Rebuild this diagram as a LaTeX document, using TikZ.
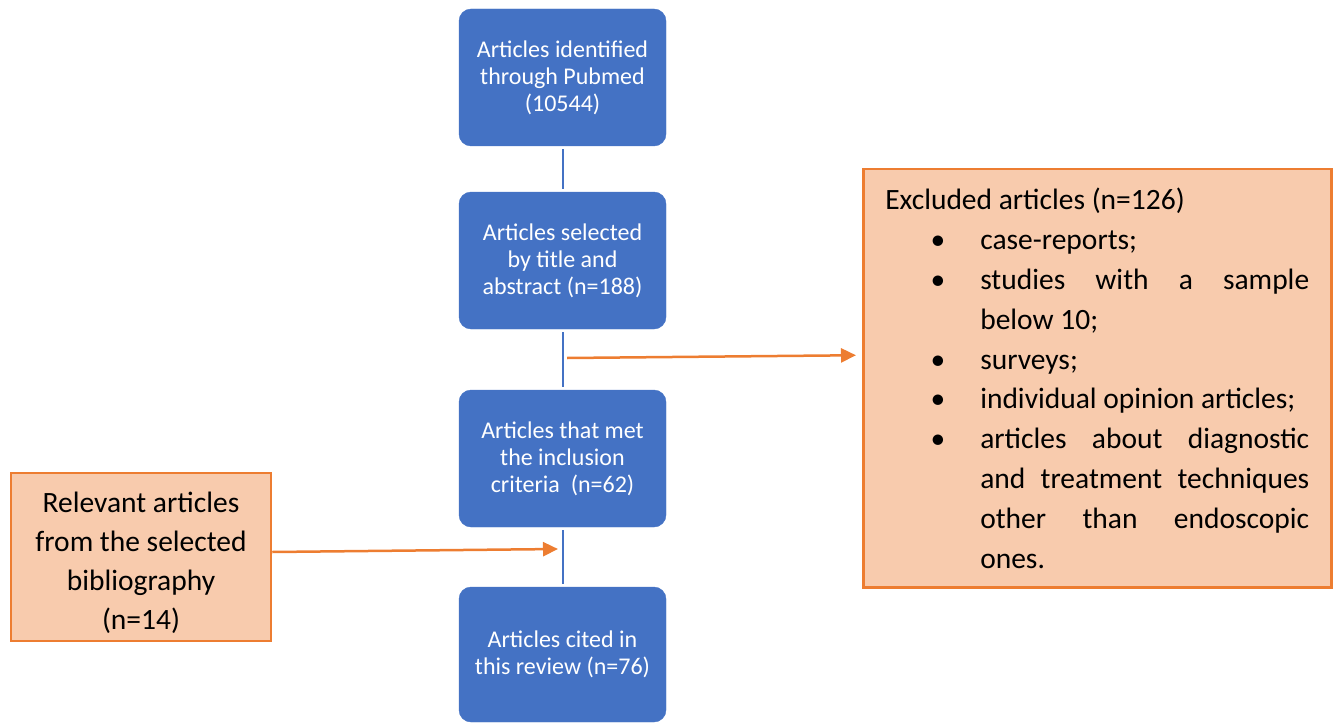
\documentclass[tikz,border=0pt]{standalone}
\usepackage{fontspec}
\setmainfont{Carlito}
\usetikzlibrary{arrows.meta}
\definecolor{boxblue}{HTML}{4472C4}
\definecolor{notefill}{HTML}{F8CBAD}
\definecolor{noteline}{HTML}{ED7D31}

\begin{document}
\begin{tikzpicture}[x=1pt,y=-1pt,
    flowbox/.style={draw=boxblue, fill=boxblue, rounded corners=12pt, text=white, minimum width=207pt, minimum height=137pt, align=center, inner sep=0pt, font=\fontsize{24pt}{27pt}\selectfont},
    notebox/.style={draw=noteline, fill=notefill, line width=2.5pt, font=\fontsize{29.5pt}{39.8pt}\selectfont},
    link/.style={draw=boxblue, line width=2pt, shorten <=3pt, shorten >=3pt},
    feed/.style={draw=noteline, line width=2.5pt, -{Triangle[length=15pt,width=14pt]}}]
        \useasboundingbox (0,0) rectangle (1337,722);

        % main flow
        \node[flowbox] (ident) at (562.5,77.5) {Articles identified\\through Pubmed\\(10544)};
        \node[flowbox] (title) at (562.5,260.5) {Articles selected\\by title and\\abstract (n=188)};
        \node[flowbox] (incl) at (562.5,458.5) {Articles that met\\the inclusion\\criteria\ \ (n=62)};
        \node[flowbox, minimum height=135pt] (cited) at (562.5,654.5) {Articles cited in\\this review (n=76)};

        \draw[link] (ident) -- (title);
        \draw[link] (title) -- (incl);
        \draw[link] (incl) -- (cited);

        % side boxes
        \node[notebox, anchor=north west, text width=424pt, inner xsep=22pt, inner ysep=0pt, minimum height=418pt, align=justify] (excl) at (862,168) {\hyphenpenalty=10000\tolerance=9999
            Excluded articles (n=126)\par
            \begin{list}{•}{\setlength{\leftmargin}{95pt}\setlength{\labelsep}{35pt}\setlength{\labelwidth}{60pt}%
                \setlength{\topsep}{0pt}\setlength{\partopsep}{0pt}\setlength{\itemsep}{0pt}\setlength{\parsep}{0pt}}
            \item case-reports;
            \item studies with a sample below 10;
            \item surveys;
            \item individual opinion articles;
            \item articles about diagnostic and treatment techniques other than endoscopic ones.
            \end{list}};
        \node[notebox, minimum width=260pt, minimum height=168pt, align=center, font=\fontsize{29.5pt}{38.7pt}\selectfont] (rel) at (141,557) {\rule{0pt}{32pt}Relevant articles\\from the selected\\bibliography\\(n=14)};

        \coordinate (out) at (567,358);
        \coordinate (into) at (558,549);
        \draw[feed] (out) -- ([xshift=-6pt,yshift=23pt]excl.west);
        \draw[feed] ([yshift=5pt]rel.east) -- (into);
\end{tikzpicture}
\end{document}
